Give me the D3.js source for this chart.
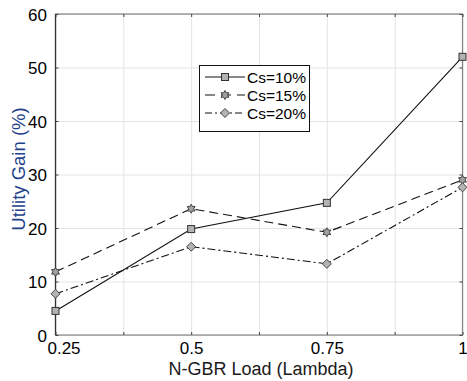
<!DOCTYPE html>
<html><head><meta charset="utf-8">
<script src="https://cdn.jsdelivr.net/npm/d3@7"></script>
<style>
html,body{margin:0;padding:0;background:#fff;}
svg{display:block;font-family:"Liberation Sans",Arial,sans-serif;}
</style></head>
<body>
<svg id="chart" width="467" height="381"></svg>
<script>
const lambdas = [0.25, 0.5, 0.75, 1];
const gridX = [0.25, 0.375, 0.5, 0.625, 0.75, 0.875, 1];
const yTicks = [0, 10, 20, 30, 40, 50, 60];
const seriesNames = ["Cs=10%", "Cs=15%", "Cs=20%"];
const cs10 = [4.5, 19.8, 24.7, 52.0];
const cs15 = [11.8, 23.6, 19.2, 29.0];
const cs20 = [7.7, 16.5, 13.3, 27.6];
const xLabel = "N-GBR Load (Lambda)";
const yLabel = "Utility Gain (%)";

const svg = d3.select("#chart");
const L = 55.5, R = 462.5, T = 14, B = 335;
const x = d3.scaleLinear().domain([0.25, 1]).range([L, R]);
const y = d3.scaleLinear().domain([0, 60]).range([B, T]);

// grid
svg.append("g").attr("transform", `translate(0,${B})`)
  .call(d3.axisBottom(x).tickValues(gridX).tickSize(-(B - T)).tickFormat(""))
  .call(g => { g.select(".domain").remove(); g.selectAll("line").attr("stroke", "#e3e3e3"); });
svg.append("g").attr("transform", `translate(${L},0)`)
  .call(d3.axisLeft(y).tickValues(yTicks).tickSize(-(R - L)).tickFormat(""))
  .call(g => { g.select(".domain").remove(); g.selectAll("line").attr("stroke", "#e3e3e3"); });

// box
svg.append("rect").attr("x", L).attr("y", T).attr("width", R - L).attr("height", B - T)
  .attr("fill", "none").attr("stroke", "#858585").attr("stroke-width", 1.2);
svg.append("line").attr("x1", L).attr("x2", L).attr("y1", T).attr("y2", B)
  .attr("stroke", "#333").attr("stroke-width", 1.2);

// inner ticks
const tickStyle = g => { g.select(".domain").remove(); g.selectAll("line").attr("stroke", "#444"); g.selectAll("text").remove(); };
svg.append("g").attr("transform", `translate(0,${B})`).call(d3.axisBottom(x).tickValues(gridX).tickSize(-3)).call(tickStyle);
svg.append("g").attr("transform", `translate(0,${T})`).call(d3.axisTop(x).tickValues(gridX).tickSize(-3)).call(tickStyle);
svg.append("g").attr("transform", `translate(${L},0)`).call(d3.axisLeft(y).tickValues(yTicks).tickSize(-3)).call(tickStyle);
svg.append("g").attr("transform", `translate(${R},0)`).call(d3.axisRight(y).tickValues(yTicks).tickSize(-3)).call(tickStyle);

// tick labels
const xl = svg.append("g").attr("transform", `translate(0,${B})`)
  .call(d3.axisBottom(x).tickValues(lambdas).tickSize(0).tickPadding(19).tickFormat(d => String(d)));
xl.select(".domain").remove();
xl.selectAll("text").attr("font-size", 17).attr("fill", "#000").attr("font-family", "Liberation Sans, Arial, sans-serif")
  .attr("dy", 0).attr("dx", (d, i) => i === 0 ? 8 : 0);
const yl = svg.append("g").attr("transform", `translate(${L},0)`)
  .call(d3.axisLeft(y).tickValues(yTicks).tickSize(0).tickPadding(8.5));
yl.select(".domain").remove();
yl.selectAll("text").attr("font-size", 17).attr("fill", "#000").attr("font-family", "Liberation Sans, Arial, sans-serif")
  .attr("dy", "0.36em");

// axis labels
svg.append("text").attr("x", 261).attr("y", 374.5).attr("text-anchor", "middle")
  .attr("font-size", 18).attr("fill", "#1a1a1a").text(xLabel);
svg.append("text").attr("transform", "translate(25,169) rotate(-90)").attr("text-anchor", "middle")
  .attr("font-size", 18.5).attr("fill", "#22418a").text(yLabel);

// series
const series = [
  {name: seriesNames[0], vals: cs10, dash: null, marker: "square"},
  {name: seriesNames[1], vals: cs15, dash: "9,5", marker: "hexagram"},
  {name: seriesNames[2], vals: cs20, dash: "8,3,2,3", marker: "diamond"}
];
const line = d3.line().x((d, i) => x(lambdas[i])).y(d => y(d));

function hexagramPath(r) {
  const pts = [];
  for (let k = 0; k < 12; k++) {
    const a = -Math.PI / 2 + k * Math.PI / 6;
    const rr = k % 2 === 0 ? r : r * 0.58;
    pts.push([rr * Math.cos(a), rr * Math.sin(a)]);
  }
  return "M" + pts.map(p => p.join(",")).join("L") + "Z";
}
function drawMarker(g, type, cx, cy) {
  if (type === "square") {
    g.append("rect").attr("x", cx - 3.5).attr("y", cy - 3.5).attr("width", 7).attr("height", 7)
      .attr("fill", "#b3b3b3").attr("stroke", "#333").attr("stroke-width", 1);
  } else if (type === "diamond") {
    g.append("path").attr("d", `M${cx},${cy - 4.5}L${cx + 4.5},${cy}L${cx},${cy + 4.5}L${cx - 4.5},${cy}Z`)
      .attr("fill", "#b3b3b3").attr("stroke", "#444").attr("stroke-width", 1);
  } else {
    g.append("path").attr("d", hexagramPath(4.5)).attr("transform", `translate(${cx},${cy})`)
      .attr("fill", "#a0a0a0").attr("stroke", "#333").attr("stroke-width", 0.9);
  }
}

series.forEach(s => {
  svg.append("path").datum(s.vals).attr("d", line).attr("fill", "none")
    .attr("stroke", "#111").attr("stroke-width", 1.1)
    .attr("stroke-dasharray", s.dash);
});
series.forEach(s => {
  const g = svg.append("g");
  s.vals.forEach((v, i) => drawMarker(g, s.marker, x(lambdas[i]), y(v)));
});

// legend
const lg = svg.append("g");
lg.append("rect").attr("x", 199.5).attr("y", 65.5).attr("width", 110).attr("height", 66)
  .attr("fill", "#fff").attr("stroke", "#111").attr("stroke-width", 1);
const rowY = [77, 95, 113];
series.forEach((s, i) => {
  lg.append("line").attr("x1", 205).attr("x2", 245).attr("y1", rowY[i]).attr("y2", rowY[i])
    .attr("stroke", "#111").attr("stroke-width", 1.1).attr("stroke-dasharray", s.dash === null ? null : (i === 1 ? "10,6" : "7,3,2,3"));
  drawMarker(lg, s.marker, 225, rowY[i]);
  lg.append("text").attr("x", 247).attr("y", rowY[i]).attr("dy", "0.36em")
    .attr("font-size", 15.5).attr("fill", "#000").text(s.name);
});
</script>
</body></html>
